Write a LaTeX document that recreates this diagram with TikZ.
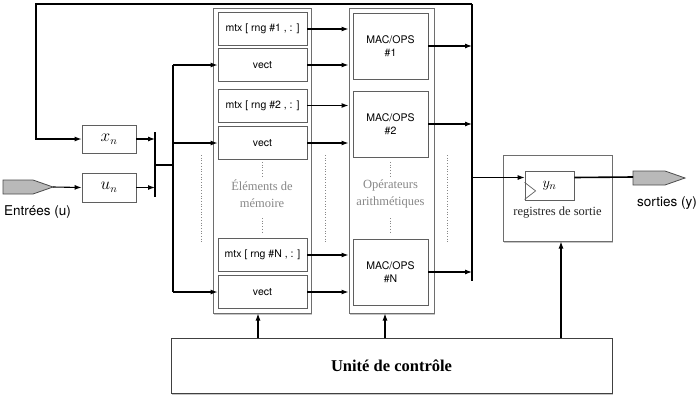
\documentclass[tikz,border=0pt]{standalone}
\usepackage{fontspec}
\setmainfont{Liberation Serif}
\setsansfont{TeX Gyre Heros}
\usetikzlibrary{arrows.meta,shadows}

\begin{document}
\begin{tikzpicture}[x=1pt,y=-1pt,
    arr/.style={-{Latex[length=7pt,width=5pt]}, line width=1.1pt},
    cell/.style={draw=cellgray, line width=0.8pt, fill=white, minimum width=89pt, minimum height=33pt, inner sep=1pt, font=\sffamily\fontsize{10.5}{13}\selectfont},
    opcell/.style={cell, minimum width=75pt, minimum height=66pt, align=center},
    bigbox/.style={draw=boxgray, line width=1pt, fill=white, drop shadow={opacity=0.45, shadow xshift=1.2pt, shadow yshift=-1.5pt}},
    reg/.style={draw=cellgray, line width=0.8pt, fill=white, minimum width=54pt, minimum height=28pt, font=\fontsize{16}{18}\selectfont},
    lbl/.style={text=lblgray, align=center, font=\fontsize{12.5}{17}\selectfont},
    sig/.style={draw=black!70, line width=0.8pt, fill=gray!55}]
    % Define colors
    \definecolor{cellgray}{RGB}{95, 95, 95}
    \definecolor{boxgray}{RGB}{110, 110, 110}
    \definecolor{lblgray}{RGB}{135, 135, 135}

    \useasboundingbox (0,0) rectangle (698,402);

    % Memory elements
    \node[bigbox, minimum width=98pt, minimum height=305pt] (memBox) at (262,160.5) {};
    \node[cell] (mtxA) at (262.5,29) {mtx [ rng \#1 , : ]};
    \node[cell] (vectA) at (262.5,65) {vect};
    \node[cell] (mtxB) at (262.5,105.5) {mtx [ rng \#2 , : ]};
    \node[cell] (vectB) at (262.5,143) {vect};
    \node[cell] (mtxN) at (262.5,255) {mtx [ rng \#N , : ]};
    \node[cell] (vectN) at (262.5,292) {vect};
    \node[lbl] (memLbl) at (262,193.5) {Éléments de\\mémoire};

    % Arithmetic operators
    \node[bigbox, minimum width=85pt, minimum height=305pt] (opsBox) at (391.5,160.5) {};
    \node[opcell] (macA) at (390.5,46) {MAC/OPS\\\#1};
    \node[opcell] (macB) at (390.5,124) {MAC/OPS\\\#2};
    \node[opcell] (macN) at (390.5,272) {MAC/OPS\\\#N};
    \node[lbl] (opsLbl) at (390.5,193.5) {Opérateurs\\arithmétiques};

    % Dotted continuation marks
    \foreach \x in {262,390.5} {
        \draw[dotted, lblgray, line width=0.7pt] (\x,162) -- (\x,178);
        \draw[dotted, lblgray, line width=0.7pt] (\x,218) -- (\x,233);
    }
    \foreach \x in {201,325,447}
        \draw[dotted, lblgray, line width=0.7pt] (\x,155) -- (\x,242);

    % Input registers
    \node[reg] (xn) at (109,139) {$x_n$};
    \node[reg, minimum height=29pt] (un) at (109,187.5) {$u_n$};
    \draw[sig] (3,180) -- (33,180) -- (53,187) -- (33,194) -- (3,194) -- cycle;
    \coordinate (inTip) at (53,187);
    \node[font=\sffamily\fontsize{13.5}{16}\selectfont] (inLbl) at (37.5,212) {Entrées (u)};
    \draw[arr] (inTip) -- (un.west);

    % Merge bar and input bus
    \coordinate (mergeTop) at (155,132);
    \coordinate (mergeBot) at (155,197);
    \coordinate (busTop) at (173,65);
    \coordinate (busBot) at (173,292);
    \draw[arr] (xn.east) -- (mergeTop |- xn.east);
    \draw[arr] (un.east) -- (mergeTop |- un.east);
    \draw[line width=2.4pt] (mergeTop) -- (mergeBot);
    \draw[line width=1.6pt] (155,165) -- (173,165);
    \draw[line width=1.6pt] (busTop) -- (busBot);
    \draw[arr] (busTop) -- (vectA.west);
    \draw[arr] (busTop |- vectB.west) -- (vectB.west);
    \draw[arr] (busBot) -- (vectN.west);

    % Memory to operators
    \foreach \c in {mtxA,vectA,mtxB,vectB,mtxN,vectN}
        \draw[arr] (\c.east) -- (opsBox.west |- \c.east);

    % Output bus and feedback
    \coordinate (outTop) at (472,4);
    \coordinate (outBot) at (472,281);
    \coordinate (fbCorner) at (36,4);
    \draw[line width=1.1pt] (outTop) -- (outBot);
    \foreach \m in {macA,macB,macN}
        \draw[arr] (\m.east) -- (outTop |- \m.east);
    \draw[arr] (outTop) -- (fbCorner) |- (xn.west);

    % Output register
    \node[bigbox, minimum width=109pt, minimum height=86pt] (regBox) at (557.5,198) {};
    \node[reg, minimum width=49pt, minimum height=29pt, font=\fontsize{15}{18}\selectfont] (yn) at (549.5,185.5) {$y_n$};
    \draw[cellgray, line width=0.7pt] (yn.south west) ++(0,-1) -- ++(11,-8.5) -- ++(-11,-8.5);
    \node[lbl, text=black!85] (regLbl) at (557.5,213) {registres de sortie};
    \draw[arr, line width=0.9pt] (outTop |- yn.west) ++(0,-8) -- ([yshift=8pt]yn.west);
    \draw[sig] (633,171) -- (665,171) -- (685,178) -- (665,185) -- (633,185) -- cycle;
    \coordinate (outSig) at (633,177);
    \draw[line width=1.6pt] ([yshift=8pt]yn.east) -- (outSig);
    \node[font=\sffamily\fontsize{13.5}{16}\selectfont] (outLbl) at (667,203) {sorties (y)};

    % Control unit
    \node[bigbox, draw=black!75, minimum width=441pt, minimum height=55pt, font=\bfseries\fontsize{16.5}{19}\selectfont] (ctrl) at (391.5,365.5) {Unité de contrôle};
    \draw[arr] ([xshift=-4pt]ctrl.north -| memBox.south) -- ([xshift=-4pt]memBox.south);
    \draw[arr] ([xshift=-6.5pt]ctrl.north -| opsBox.south) -- ([xshift=-6.5pt]opsBox.south);
    \draw[arr] ([xshift=3.5pt]ctrl.north -| regBox.south) -- ([xshift=3.5pt]regBox.south);

\end{tikzpicture}
\end{document}
